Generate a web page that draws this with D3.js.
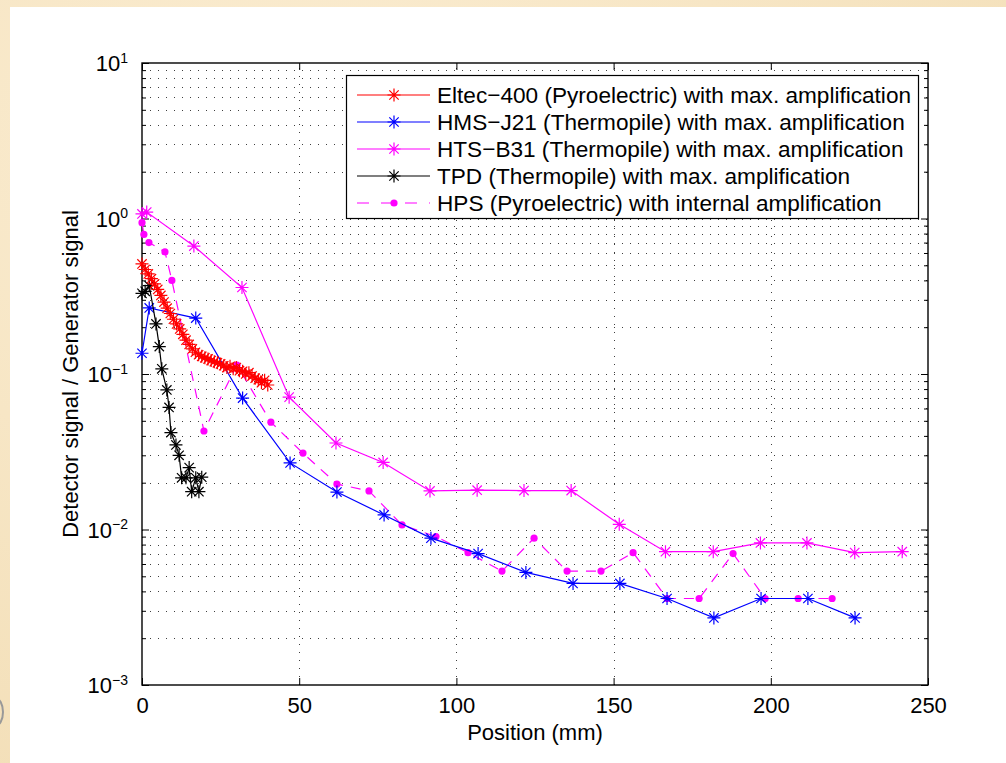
<!DOCTYPE html>
<meta charset="utf-8">
<style>
body { margin: 0; background: #f6e4c2; }
svg { display: block; font-family: "Liberation Sans", Arial, Helvetica, sans-serif; }
.axis line { stroke: #000; stroke-width: 1; }
.axis path { display: none; }
.axis text { font-size: 22px; fill: #000; font-family: "Liberation Sans", Arial, sans-serif; }
.grid line { stroke: #000; stroke-width: 1; stroke-dasharray: 1,7; opacity: 0.75; }
</style>
<body>
<div id="chart"></div>
<script src="https://cdn.jsdelivr.net/npm/d3@7/dist/d3.min.js"></script>
<script>

// ---- data ----
var eltecX = [0,1,2,3,4,5,6,7,8,9,10,11,12,13,14,15,16,17,18,19,20,21,22,23,24,25,26,27,28,29,30,31,32,33,34,35,36,37,38,39,40];
var eltecY = [0.51,0.47,0.44,0.41,0.38,0.35,0.32,0.29,0.265,0.245,0.225,0.21,0.195,0.18,0.165,0.155,0.145,0.138,0.133,0.13,0.127,0.125,0.122,0.12,0.118,0.116,0.113,0.11,0.112,0.108,0.11,0.105,0.104,0.1,0.102,0.097,0.094,0.092,0.088,0.091,0.085];

var hmsX = [0,2.3,17.1,32,47.1,62,77,91.9,106.9,122.1,137.1,152,167,181.9,196.9,211.8,226.8];
var hmsY = [0.136,0.266,0.229,0.070,0.0268,0.0174,0.0124,0.0088,0.0070,0.0053,0.0045,0.0045,0.0036,0.0027,0.0036,0.0036,0.0027];

var htsX = [0,1.5,16.5,31.8,46.8,61.7,76.7,91.6,106.6,121.5,136.5,151.8,166.5,181.7,196.7,211.5,226.7,241.8];
var htsY = [1.07,1.1,0.665,0.36,0.071,0.036,0.027,0.0177,0.0179,0.0178,0.0178,0.0108,0.0072,0.0072,0.0082,0.0082,0.0071,0.0072];

var tpdX = [0,1,2.3,4.45,5.5,6.3,7.9,8.6,9.2,10.8,11.8,12.6,14.0,15.0,15.8,17.1,18.1,19.0];
var tpdY = [0.33,0.34,0.37,0.21,0.15,0.108,0.079,0.061,0.042,0.035,0.030,0.0215,0.0215,0.025,0.0175,0.0215,0.0175,0.0217];

var hpsX = [0,0.6,2.2,7.3,9.5,19.7,30.2,41,51.2,62,72.2,82.7,93.5,103.7,114.5,124.7,135.2,146,156.2,167,177.2,188,198.2,208.7,219.5];
var hpsY = [0.94,0.79,0.70,0.61,0.40,0.043,0.114,0.049,0.031,0.0196,0.0177,0.0107,0.0090,0.0071,0.0054,0.0088,0.0054,0.0054,0.0071,0.0036,0.0036,0.0070,0.0036,0.0036,0.0036];

var seriesNames = [
    "Eltec\u2212400 (Pyroelectric) with max. amplification",
    "HMS\u2212J21 (Thermopile) with max. amplification",
    "HTS\u2212B31 (Thermopile) with max. amplification",
    "TPD (Thermopile) with max. amplification",
    "HPS (Pyroelectric) with internal amplification"
];
var seriesColors = ["#ff0000", "#0000ff", "#ff00ff", "#000000", "#ff00ff"];

var xTicks = [0, 50, 100, 150, 200, 250];
var yTicks = [1e-3, 1e-2, 1e-1, 1, 10];
var yExponents = ["\u22123", "\u22122", "\u22121", "0", "1"];

var xLabel = "Position (mm)";
var yLabel = "Detector signal / Generator signal";

// ---- layout ----
var largeur = 1006, hauteur = 763;
var margin = {top: 63, right: 78, bottom: 78, left: 142};
var x0 = margin.left, x1 = largeur - margin.right;
var y0 = hauteur - margin.bottom, y1 = margin.top;

var svg = d3.select("#chart").append("svg")
    .attr("width", largeur)
    .attr("height", hauteur);

// fond crème + feuille blanche
var bg = svg.append("defs").append("radialGradient")
    .attr("id", "paper").attr("cx", "30%").attr("cy", "20%").attr("r", "90%");
bg.append("stop").attr("offset", "0%").attr("stop-color", "#fbedd2");
bg.append("stop").attr("offset", "100%").attr("stop-color", "#f3dfb8");
svg.append("rect").attr("width", largeur).attr("height", hauteur).attr("fill", "url(#paper)");
svg.append("rect").attr("x", 10).attr("y", 7).attr("width", largeur - 10).attr("height", hauteur - 7).attr("fill", "#fff");
svg.append("ellipse").attr("cx", -5).attr("cy", 712).attr("rx", 8).attr("ry", 14)
    .attr("fill", "none").attr("stroke", "#999").attr("stroke-width", 2);

var x = d3.scaleLinear().domain([0, 250]).range([x0, x1]);
var y = d3.scaleLog().domain([1e-3, 10]).range([y0, y1]);

// valeurs mineures de l'échelle log
var yMinor = [];
[1e-3, 1e-2, 1e-1, 1].forEach(function(d) {
    for (var k = 2; k <= 9; k++) yMinor.push(d * k);
});

// grille pointillée
var grid = svg.append("g").attr("class", "grid");
grid.selectAll(".h").data(yMinor.concat([1e-2, 1e-1, 1])).enter().append("line")
    .attr("x1", x0).attr("x2", x1)
    .attr("y1", function(d) { return Math.round(y(d)) + 0.5; })
    .attr("y2", function(d) { return Math.round(y(d)) + 0.5; });
grid.selectAll(".v").data([50, 100, 150, 200]).enter().append("line")
    .attr("y1", y0).attr("y2", y1)
    .attr("x1", function(d) { return Math.round(x(d)) + 0.5; })
    .attr("x2", function(d) { return Math.round(x(d)) + 0.5; });

// axes (ticks vers l'intérieur)
svg.append("g").attr("class", "axis")
    .attr("transform", "translate(0," + y0 + ")")
    .call(d3.axisBottom(x).tickValues(xTicks).tickSize(-7).tickSizeOuter(0).tickPadding(12));
svg.append("g").attr("class", "axis")
    .attr("transform", "translate(0," + y1 + ")")
    .call(d3.axisTop(x).tickValues(xTicks).tickSize(-7).tickSizeOuter(0).tickFormat(""));

var yAxis = svg.append("g").attr("class", "axis")
    .attr("transform", "translate(" + x0 + ",0)")
    .call(d3.axisLeft(y).tickValues(yTicks).tickSize(-7).tickSizeOuter(0).tickPadding(14).tickFormat(""));
yAxis.selectAll(".tick text").each(function(d, i) {
    var t = d3.select(this).attr("dy", "0.35em");
    t.append("tspan").text("10");
    t.append("tspan").attr("dy", "-0.62em").style("font-size", "14px").text(yExponents[yTicks.indexOf(d)]);
});
svg.append("g").attr("class", "axis")
    .attr("transform", "translate(" + x0 + ",0)")
    .call(d3.axisLeft(y).tickValues(yMinor).tickSize(-4).tickSizeOuter(0).tickFormat(""));
svg.append("g").attr("class", "axis")
    .attr("transform", "translate(" + x1 + ",0)")
    .call(d3.axisRight(y).tickValues(yTicks).tickSize(-7).tickSizeOuter(0).tickFormat(""));
svg.append("g").attr("class", "axis")
    .attr("transform", "translate(" + x1 + ",0)")
    .call(d3.axisRight(y).tickValues(yMinor).tickSize(-4).tickSizeOuter(0).tickFormat(""));

// cadre
svg.append("rect")
    .attr("x", x0).attr("y", y1).attr("width", x1 - x0).attr("height", y0 - y1)
    .attr("fill", "none").attr("stroke", "#000").attr("stroke-width", 1.4);

// libellés des axes
svg.append("text")
    .attr("x", (x0 + x1) / 2).attr("y", 740)
    .attr("text-anchor", "middle").style("font-size", "22px")
    .text(xLabel);
svg.append("text")
    .attr("transform", "translate(78," + (y0 + y1) / 2 + ") rotate(-90)")
    .attr("text-anchor", "middle").style("font-size", "22px")
    .text(yLabel);

// marqueur étoile façon matlab
function star(s) {
    var d = s * 0.72;
    return "M" + (-s) + ",0H" + s + "M0," + (-s) + "V" + s +
        "M" + (-d) + "," + (-d) + "L" + d + "," + d +
        "M" + (-d) + "," + d + "L" + d + "," + (-d);
}

var line = d3.line().x(function(d) { return x(d[0]); }).y(function(d) { return y(d[1]); });

function drawSeries(xs, ys, color, dashed) {
    var pts = xs.map(function(v, i) { return [v, ys[i]]; });
    var g = svg.append("g");
    g.append("path").datum(pts)
        .attr("d", line)
        .attr("fill", "none")
        .attr("stroke", color)
        .attr("stroke-width", 1.2)
        .attr("stroke-dasharray", dashed ? "10,8" : null);
    if (dashed) {
        g.selectAll("circle").data(pts).enter().append("circle")
            .attr("cx", function(d) { return x(d[0]); })
            .attr("cy", function(d) { return y(d[1]); })
            .attr("r", 3.6)
            .attr("fill", color);
    } else {
        g.selectAll(".m").data(pts).enter().append("path")
            .attr("transform", function(d) { return "translate(" + x(d[0]) + "," + y(d[1]) + ")"; })
            .attr("d", star(6.5))
            .attr("stroke", color)
            .attr("stroke-width", 1.2)
            .attr("fill", "none");
    }
}

drawSeries(hpsX, hpsY, seriesColors[4], true);
drawSeries(htsX, htsY, seriesColors[2], false);
drawSeries(hmsX, hmsY, seriesColors[1], false);
drawSeries(tpdX, tpdY, seriesColors[3], false);
drawSeries(eltecX, eltecY, seriesColors[0], false);

// légende
var leg = svg.append("g");
leg.append("rect")
    .attr("x", 346.5).attr("y", 75.5).attr("width", 572).attr("height", 143)
    .attr("fill", "#fff").attr("stroke", "#000").attr("stroke-width", 1.2);
seriesNames.forEach(function(name, i) {
    var cy = 95 + i * 27;
    var dashed = (i === 4);
    leg.append("line")
        .attr("x1", 357).attr("x2", 430).attr("y1", cy).attr("y2", cy)
        .attr("stroke", seriesColors[i]).attr("stroke-width", 1.2)
        .attr("stroke-dasharray", dashed ? "12,12" : null);
    if (dashed) {
        leg.append("circle").attr("cx", 394).attr("cy", cy).attr("r", 3.6).attr("fill", seriesColors[i]);
    } else {
        leg.append("path").attr("transform", "translate(394," + cy + ")")
            .attr("d", star(6.5)).attr("stroke", seriesColors[i]).attr("stroke-width", 1.2);
    }
    leg.append("text")
        .attr("x", 437).attr("y", cy).attr("dy", "0.35em")
        .style("font-size", "22.6px")
        .text(name);
});

</script>
</body>
